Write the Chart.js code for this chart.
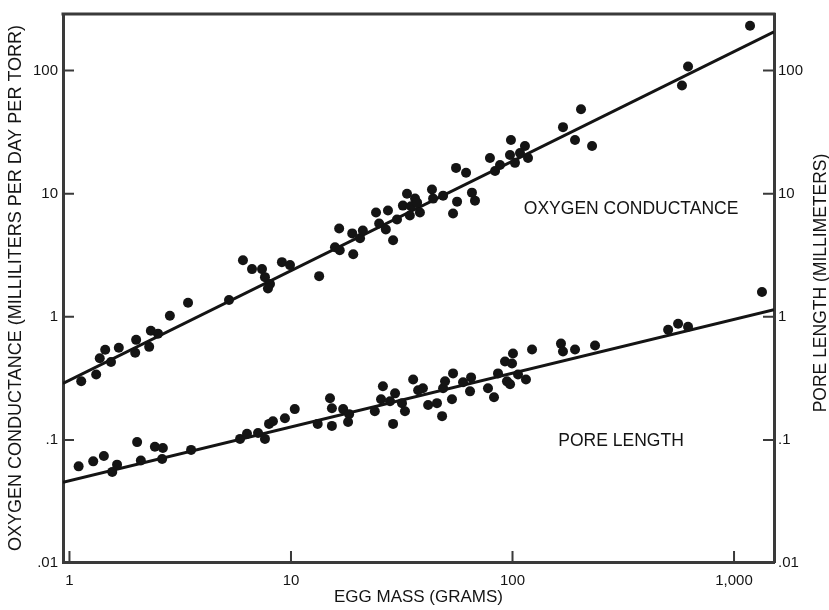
<!DOCTYPE html>
<html>
<head>
<meta charset="utf-8">
<script src="https://cdn.jsdelivr.net/npm/chart.js@4.4.1/dist/chart.umd.min.js"></script>
<style>
  html, body { margin: 0; padding: 0; background: #fff; }
</style>
</head>
<body>
<canvas id="eggChart" width="829" height="610"></canvas>
<script>
// egg mass (g) vs oxygen conductance (ml / day / torr)
const eggMassO2 = [1.13, 1.32, 1.37, 1.45, 1.54, 1.67, 1.98, 2.0, 2.29, 2.33, 2.51, 2.84, 3.43, 5.25,
  6.07, 6.67, 7.4, 7.63, 8.04, 7.87, 9.1, 9.9, 13.4, 15.8, 16.5, 16.6, 19.1, 18.9, 20.5, 21.1,
  24.2, 25.0, 26.8, 27.4, 28.9, 30.1, 32.0, 33.4, 34.4, 36.3, 34.8, 38.2, 37.1, 43.3, 43.8, 48.6,
  53.9, 56.2, 65.6, 67.7, 55.6, 61.7, 79.1, 83.4, 87.8, 98.4, 97.4, 102.6, 113.8, 117.5, 108.1,
  169, 191.5, 203.8, 228.6, 582, 620, 1181];
const o2Conductance = [0.30, 0.34, 0.46, 0.54, 0.43, 0.56, 0.51, 0.65, 0.57, 0.77, 0.73, 1.02, 1.30, 1.37,
  2.88, 2.44, 2.44, 2.10, 1.85, 1.70, 2.78, 2.63, 2.14, 3.67, 5.22, 3.47, 3.22, 4.76, 4.34, 5.03,
  7.03, 5.73, 5.13, 7.29, 4.18, 6.17, 8.0, 10.0, 6.65, 9.12, 7.9, 7.03, 8.46, 10.8, 9.12, 9.64,
  6.90, 8.62, 10.2, 8.78, 16.2, 14.8, 19.5, 15.3, 17.1, 27.3, 20.6, 17.8, 24.4, 19.5, 21.4,
  34.7, 27.3, 48.5, 24.4, 75.7, 108, 231];

// egg mass (g) vs pore length (mm)
const eggMassPore = [1.10, 1.28, 1.43, 1.56, 1.64, 2.02, 2.10, 2.43, 2.64, 2.62, 3.54, 5.89, 6.33, 7.10,
  7.63, 7.96, 8.29, 9.39, 10.4, 13.2, 15.0, 15.3, 15.3, 17.2, 18.3, 18.1, 23.9, 26.0, 25.5, 28.0,
  28.9, 29.5, 31.7, 32.7, 35.6, 37.5, 39.4, 41.6, 45.6, 48.1, 48.6, 49.6, 53.3, 53.9, 59.8, 64.3,
  65.0, 77.5, 82.5, 86.0, 92.5, 94.4, 100.5, 99.5, 105.9, 97.5, 115, 122.5, 165.5, 169, 191.5,
  235.8, 504, 559, 620, 1337];
const poreLength = [0.061, 0.067, 0.074, 0.055, 0.063, 0.096, 0.068, 0.088, 0.086, 0.070, 0.083, 0.102, 0.112, 0.114,
  0.102, 0.135, 0.142, 0.150, 0.178, 0.135, 0.218, 0.181, 0.130, 0.178, 0.162, 0.140, 0.171, 0.273, 0.214, 0.206,
  0.135, 0.239, 0.199, 0.171, 0.310, 0.253, 0.263, 0.192, 0.199, 0.156, 0.263, 0.299, 0.214, 0.347, 0.294, 0.248,
  0.322, 0.263, 0.222, 0.347, 0.434, 0.299, 0.503, 0.418, 0.340, 0.283, 0.310, 0.542, 0.606, 0.522, 0.542,
  0.584, 0.786, 0.878, 0.831, 1.59];

// regression lines, end points
const fitMass = [0.935, 1515];
const o2Fit = [0.288, 206];
const poreFit = [0.0453, 1.14];

const xTicks = [1, 10, 100, 1000];
const xTickLabels = ['1', '10', '100', '1,000'];
const yTicks = [0.01, 0.1, 1, 10, 100];
const yTickLabels = ['.01', '.1', '1', '10', '100'];

const seriesLabels = ['OXYGEN CONDUCTANCE', 'PORE LENGTH'];
const labelSpots = [{ x: 343, y: 7.43 }, { x: 309, y: 0.098 }];

const ink = '#141414';
const axisColor = '#3a3a3a';
const fontFamily = "'Liberation Sans', Arial, Helvetica, sans-serif";

const toPoints = (xs, ys) => xs.map((x, i) => ({ x: x, y: ys[i] }));

// short tick marks pointing into the plot, plus the top frame line
const innerTicks = {
  id: 'innerTicks',
  afterDraw(chart) {
    const { ctx, chartArea: area, scales } = chart;
    const len = 11;
    ctx.save();
    ctx.strokeStyle = axisColor;
    ctx.lineWidth = 2;
    ctx.beginPath();
    xTicks.forEach(v => {
      const px = scales.x.getPixelForValue(v);
      ctx.moveTo(px, area.bottom);
      ctx.lineTo(px, area.bottom - len);
    });
    yTicks.forEach(v => {
      const py = scales.y.getPixelForValue(v);
      ctx.moveTo(area.left, py);
      ctx.lineTo(area.left + len, py);
      const py2 = scales.y2.getPixelForValue(v);
      ctx.moveTo(area.right, py2);
      ctx.lineTo(area.right - len, py2);
    });
    ctx.stroke();
    ctx.lineWidth = 3;
    ctx.beginPath();
    ctx.moveTo(area.left - 1.5, area.top);
    ctx.lineTo(area.right + 1.5, area.top);
    ctx.stroke();
    ctx.restore();
  }
};

// in-plot series labels and the right-hand axis title
const textLabels = {
  id: 'textLabels',
  afterDraw(chart) {
    const { ctx, scales, chartArea: area } = chart;
    ctx.save();
    ctx.fillStyle = ink;
    ctx.font = '17.5px ' + fontFamily;
    ctx.textAlign = 'center';
    ctx.textBaseline = 'middle';
    seriesLabels.forEach((txt, i) => {
      const px = scales.x.getPixelForValue(labelSpots[i].x);
      const py = scales.y.getPixelForValue(labelSpots[i].y);
      ctx.fillText(txt, px, py);
    });
    ctx.font = '17.5px ' + fontFamily;
    ctx.translate(821, (area.top + area.bottom) / 2 - 5);
    ctx.rotate(-Math.PI / 2);
    ctx.fillText('PORE LENGTH (MILLIMETERS)', 0, 0);
    ctx.restore();
  }
};

const ctx = document.getElementById('eggChart').getContext('2d');
const chart = new Chart(ctx, {
  type: 'scatter',
  data: {
    datasets: [
      {
        label: 'Oxygen conductance',
        data: toPoints(eggMassO2, o2Conductance),
        pointRadius: 5,
        pointBackgroundColor: ink,
        pointBorderWidth: 0,
        yAxisID: 'y'
      },
      {
        label: 'Pore length',
        data: toPoints(eggMassPore, poreLength),
        pointRadius: 5,
        pointBackgroundColor: ink,
        pointBorderWidth: 0,
        yAxisID: 'y2'
      },
      {
        label: 'Oxygen fit',
        data: toPoints(fitMass, o2Fit),
        showLine: true,
        borderColor: ink,
        borderWidth: 3,
        pointRadius: 0,
        yAxisID: 'y'
      },
      {
        label: 'Pore fit',
        data: toPoints(fitMass, poreFit),
        showLine: true,
        borderColor: ink,
        borderWidth: 3,
        pointRadius: 0,
        yAxisID: 'y2'
      }
    ]
  },
  options: {
    responsive: false,
    animation: false,
    layout: { padding: { top: 10, left: 0, right: 0, bottom: 0 } },
    plugins: {
      legend: { display: false },
      tooltip: { enabled: false }
    },
    scales: {
      x: {
        type: 'logarithmic',
        position: 'bottom',
        min: 0.935,
        max: 1515,
        afterBuildTicks: scale => { scale.ticks = xTicks.map(v => ({ value: v })); },
        afterFit: scale => { scale.height = 48; },
        grid: { display: false, drawTicks: false },
        border: { display: true, color: axisColor, width: 3 },
        ticks: {
          autoSkip: false,
          maxRotation: 0,
          padding: 10,
          color: ink,
          font: { size: 15, family: fontFamily },
          callback: v => xTickLabels[xTicks.indexOf(v)]
        },
        title: {
          display: true,
          text: 'EGG MASS (GRAMS)',
          color: ink,
          font: { size: 17, family: fontFamily },
          padding: { top: 0, bottom: 2 }
        }
      },
      y: {
        type: 'logarithmic',
        position: 'left',
        min: 0.0102,
        max: 288,
        afterBuildTicks: scale => { scale.ticks = yTicks.map(v => ({ value: v })); },
        afterFit: scale => { scale.width = 63; },
        grid: { display: false, drawTicks: false },
        border: { display: true, color: axisColor, width: 3 },
        ticks: {
          autoSkip: false,
          padding: 5,
          color: ink,
          font: { size: 15, family: fontFamily },
          callback: v => yTickLabels[yTicks.indexOf(v)]
        },
        title: {
          display: true,
          text: 'OXYGEN CONDUCTANCE (MILLILITERS PER DAY PER TORR)',
          color: ink,
          font: { size: 18, family: fontFamily },
          padding: { top: 5, bottom: 0 }
        }
      },
      y2: {
        type: 'logarithmic',
        position: 'right',
        min: 0.0102,
        max: 288,
        afterBuildTicks: scale => { scale.ticks = yTicks.map(v => ({ value: v })); },
        afterFit: scale => { scale.width = 55; },
        grid: { display: false, drawTicks: false },
        border: { display: true, color: axisColor, width: 3 },
        ticks: {
          autoSkip: false,
          padding: 4,
          color: ink,
          font: { size: 15, family: fontFamily },
          callback: v => yTickLabels[yTicks.indexOf(v)]
        }
      }
    }
  },
  plugins: [innerTicks, textLabels]
});
</script>
</body>
</html>
